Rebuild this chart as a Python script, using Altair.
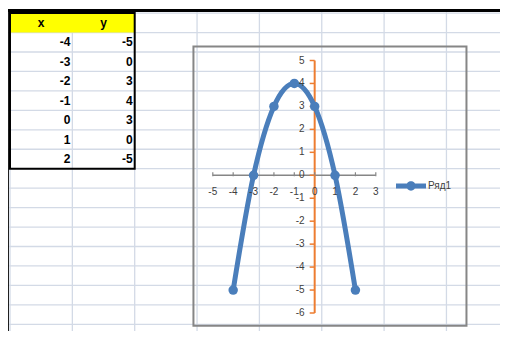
import altair as alt
import pandas as pd

# ---------------- data ----------------
x_vals = [-4, -3, -2, -1, 0, 1, 2]
y_vals = [-5, 0, 3, 4, 3, 0, -5]
series_name = "Ряд1"
header = ["x", "y"]
x_ticks = [-5, -4, -3, -2, -1, 0, 1, 2, 3]
y_ticks = [-6, -5, -4, -3, -2, -1, 0, 1, 2, 3, 4, 5]
sheet_col_lines = list(range(0, 9))    # spreadsheet column boundaries
sheet_row_lines = list(range(0, 18))   # spreadsheet row boundaries
sheet_edge_col = -0.05                 # dark window edge (left), in columns
sheet_edge_row = -0.14                 # dark window edge (top), in rows
chart_area_x = [-5.95, 7.45]           # chart frame extent, in chart x units
chart_area_y = [-6.56, 5.61]           # chart frame extent, in chart y units

# ---------------- style ----------------
W, H = 492, 323
FONT = "Liberation Sans"
BLUE = "#4A7EBB"
ORANGE = "#ED7D31"
GRID = "#D3DAE6"
AXIS_GRAY = "#868686"
TEXT = "#404040"

col_scale = alt.Scale(domain=[0, 8], range=[2, 500.8], nice=False, zero=False)
row_scale = alt.Scale(domain=[0, 17], range=[5.1, 335.75], nice=False, zero=False)
cx_scale = alt.Scale(domain=[-5, 3], range=[204.8, 367.8], nice=False, zero=False)
cy_scale = alt.Scale(domain=[-6, 5], range=[305, 52.5], nice=False, zero=False)

C = lambda f: alt.X(f, type="quantitative", scale=col_scale, axis=None)
C2 = lambda f: alt.X2(f)
R = lambda f: alt.Y(f, type="quantitative", scale=row_scale, axis=None)
R2 = lambda f: alt.Y2(f)
X = lambda f: alt.X(f, type="quantitative", scale=cx_scale, axis=None)
Y = lambda f: alt.Y(f, type="quantitative", scale=cy_scale, axis=None)

# ---------------- spreadsheet background ----------------
vgrid = pd.DataFrame({"c": sheet_col_lines,
                      "r0": sheet_edge_row, "r1": max(sheet_row_lines)})
hgrid = pd.DataFrame({"r": sheet_row_lines,
                      "c0": sheet_edge_col, "c1": max(sheet_col_lines)})
vgrid_layer = alt.Chart(vgrid).mark_rule(color=GRID, strokeWidth=1.3).encode(
    x=C("c"), y=R("r0"), y2=R2("r1"))
hgrid_layer = alt.Chart(hgrid).mark_rule(color=GRID, strokeWidth=1.3).encode(
    y=R("r"), x=C("c0"), x2=C2("c1"))

edge_top = alt.Chart(pd.DataFrame({"r": [sheet_edge_row], "c0": [sheet_edge_col - 1],
                                   "c1": [max(sheet_col_lines)]})).mark_rule(
    color="black", strokeWidth=3).encode(y=R("r"), x=C("c0"), x2=C2("c1"))
edge_left = alt.Chart(pd.DataFrame({"c": [sheet_edge_col], "r0": [sheet_edge_row],
                                    "r1": [max(sheet_row_lines)]})).mark_rule(
    color="black", strokeWidth=4).encode(x=C("c"), y=R("r0"), y2=R2("r1"))

# ---------------- table ----------------
n_cols = len(header)
n_rows = len(x_vals) + 1
head_fill = alt.Chart(pd.DataFrame({"c0": [0], "c1": [n_cols], "r0": [0], "r1": [1]})).mark_rect(
    color="#FFFF00").encode(x=C("c0"), x2=C2("c1"), y=R("r0"), y2=R2("r1"))

head_df = pd.DataFrame({"c": [i + 0.5 for i in range(n_cols)], "r": [0.5] * n_cols, "t": header})
head_text = alt.Chart(head_df).mark_text(font=FONT, fontSize=12, fontWeight="bold",
                                         color="black", align="center", baseline="middle").encode(
    x=C("c"), y=R("r"), text="t:N")

cells = []
for i, (xv, yv) in enumerate(zip(x_vals, y_vals)):
    cells.append({"c": 1, "r": i + 1.5, "t": str(xv)})
    cells.append({"c": 2, "r": i + 1.5, "t": str(yv)})
cell_text = alt.Chart(pd.DataFrame(cells)).mark_text(font=FONT, fontSize=12, fontWeight="bold",
                                                     color="black", align="right",
                                                     baseline="middle", dx=-2).encode(
    x=C("c"), y=R("r"), text="t:N")

table_border = alt.Chart(pd.DataFrame({"c0": [0], "c1": [n_cols], "r0": [0], "r1": [n_rows]})).mark_rect(
    fill="transparent", stroke="black", strokeWidth=2).encode(
    x=C("c0"), x2=C2("c1"), y=R("r0"), y2=R2("r1"))

# ---------------- chart ----------------
frame = alt.Chart(pd.DataFrame({"x0": [chart_area_x[0]], "x1": [chart_area_x[1]],
                                "y0": [chart_area_y[0]], "y1": [chart_area_y[1]]})).mark_rect(
    fill="transparent", stroke=AXIS_GRAY, strokeWidth=2).encode(
    x=X("x0"), x2=alt.X2("x1"), y=Y("y0"), y2=alt.Y2("y1"))

xaxis_line = alt.Chart(pd.DataFrame({"x0": [min(x_ticks)], "x1": [max(x_ticks)], "y": [0]})).mark_rule(
    color=AXIS_GRAY, strokeWidth=1.5).encode(x=X("x0"), x2=alt.X2("x1"), y=Y("y"))
yaxis_line = alt.Chart(pd.DataFrame({"y0": [min(y_ticks)], "y1": [max(y_ticks)], "x": [0]})).mark_rule(
    color=ORANGE, strokeWidth=2).encode(y=Y("y0"), y2=alt.Y2("y1"), x=X("x"))

xt = pd.DataFrame({"x": x_ticks, "y": 0, "t": [str(v) for v in x_ticks]})
yt = pd.DataFrame({"y": y_ticks, "x": 0, "t": [str(v) for v in y_ticks]})

xtick_marks = alt.Chart(xt).mark_tick(orient="vertical", size=4, thickness=1.2,
                                      color=AXIS_GRAY, yOffset=-1, opacity=1).encode(x=X("x"), y=Y("y"))
ytick_marks = alt.Chart(yt).mark_tick(orient="horizontal", size=5, thickness=1.5,
                                      color=ORANGE, xOffset=-2.5, opacity=1).encode(x=X("x"), y=Y("y"))

xtick_labels = alt.Chart(xt).mark_text(font=FONT, fontSize=10, color=TEXT, align="center",
                                       baseline="middle", dy=17).encode(x=X("x"), y=Y("y"), text="t:N")
ytick_labels = alt.Chart(yt).mark_text(font=FONT, fontSize=10, color=TEXT, align="right",
                                       baseline="middle", dx=-10).encode(x=X("x"), y=Y("y"), text="t:N")

series_df = pd.DataFrame({"x": x_vals, "y": y_vals, "s": series_name})
line = alt.Chart(series_df).mark_line(interpolate="cardinal", color=BLUE, strokeWidth=5,
                                      strokeCap="round", strokeJoin="round").encode(x=X("x"), y=Y("y"))

LEGEND_PATH = ("M-1,-0.16H1V0.16H-1Z "
               "M0.31,0A0.31,0.31,0,1,1,-0.31,0A0.31,0.31,0,1,1,0.31,0Z")
points = alt.Chart(series_df).mark_circle(size=90, opacity=1).encode(
    x=X("x"), y=Y("y"),
    color=alt.Color("s:N", scale=alt.Scale(range=[BLUE]),
                    legend=alt.Legend(orient="none", legendX=388, legendY=163, title=None,
                                      symbolType=LEGEND_PATH, symbolSize=900, symbolOpacity=1,
                                      symbolStrokeWidth=0, padding=0, labelOffset=2,
                                      labelFont=FONT, labelFontSize=10, labelColor=TEXT)))

chart = alt.layer(
    vgrid_layer, hgrid_layer, head_fill, head_text, cell_text, table_border,
    edge_top, edge_left,
    frame, xaxis_line, yaxis_line, xtick_marks, ytick_marks,
    line, points, xtick_labels, ytick_labels,
).resolve_scale(x="independent", y="independent", color="independent").properties(
    width=W, height=H, padding=0, background="white",
    autosize=alt.AutoSizeParams(type="none"),
).configure_view(strokeWidth=0)

chart.save("out.html", embed_options={"renderer": "svg", "actions": False})
